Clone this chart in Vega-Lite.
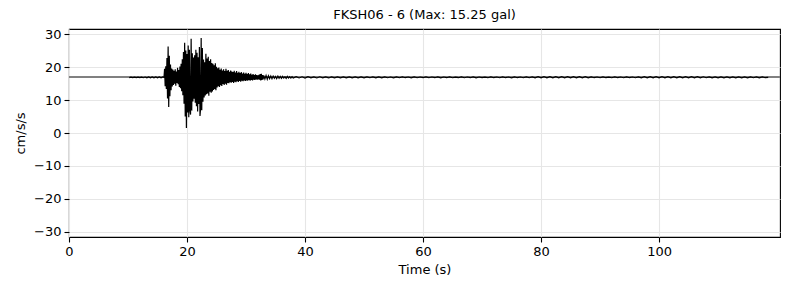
{
  "$schema": "https://vega.github.io/schema/vega-lite/v6.json",
  "width": 711,
  "height": 208,
  "autosize": "none",
  "padding": {"left": 69, "top": 29, "right": 10, "bottom": 53},
  "background": "white",
  "title": {"text": "FKSH06 - 6 (Max: 15.25 gal)", "fontSize": 13, "font": "DejaVu Sans", "fontWeight": "normal", "color": "black", "offset": 6, "anchor": "middle"},
  "config": {
    "view": {"stroke": "black", "strokeWidth": 1.1},
    "axis": {
      "domain": false, "grid": true, "tickColor": "black", "tickSize": 5, "tickWidth": 1.1,
      "labelFont": "DejaVu Sans", "labelFontSize": 13, "labelColor": "black", "labelPadding": 3,
      "labelOverlap": false, "labelFlush": false, "labelBound": false,
      "titleFont": "DejaVu Sans", "titleFontSize": 13, "titleFontWeight": "normal", "titleColor": "black",
      "gridColor": "#e6e6e6", "gridWidth": 1.1
    }
  },
  "data": {"values": [
    {"t":10.2,"a":16.85},{"t":10.5,"a":16.95},{"t":10.8,"a":16.82},{"t":11.1,"a":16.97},{"t":11.4,"a":16.84},{"t":11.7,"a":16.96},{"t":12.0,"a":16.83},{"t":12.3,"a":16.98},{"t":12.6,"a":16.8},{"t":12.9,"a":17.0},{"t":13.2,"a":16.78},{"t":13.5,"a":17.02},{"t":13.8,"a":16.77},{"t":14.1,"a":17.03},{"t":14.4,"a":16.79},{"t":14.7,"a":17.05},{"t":15.0,"a":16.76},{"t":15.3,"a":17.04},{"t":15.6,"a":16.78},{"t":15.9,"a":17.02},
    {"t":16.1,"a":16.9},{"t":16.2,"a":19.5},{"t":16.3,"a":14.2},{"t":16.4,"a":20.3},{"t":16.5,"a":13.4},{"t":16.6,"a":22.8},{"t":16.7,"a":10.5},{"t":16.8,"a":26.3},{"t":16.9,"a":7.9},{"t":17.0,"a":23.5},
    {"t":17.1,"a":11.2},{"t":17.2,"a":20.8},{"t":17.3,"a":13.0},{"t":17.4,"a":19.6},{"t":17.5,"a":14.1},{"t":17.6,"a":19.3},{"t":17.7,"a":14.6},{"t":17.8,"a":18.9},{"t":17.9,"a":15.0},{"t":18.0,"a":19.4},
    {"t":18.1,"a":14.4},{"t":18.2,"a":18.7},{"t":18.3,"a":15.2},{"t":18.4,"a":19.8},{"t":18.5,"a":14.8},{"t":18.6,"a":19.1},{"t":18.7,"a":14.0},{"t":18.8,"a":20.2},{"t":18.9,"a":13.6},{"t":19.0,"a":21.0},
    {"t":19.1,"a":12.7},{"t":19.2,"a":22.4},{"t":19.3,"a":11.5},{"t":19.4,"a":24.6},{"t":19.5,"a":8.9},{"t":19.6,"a":27.4},{"t":19.7,"a":5.0},{"t":19.8,"a":25.1},{"t":19.9,"a":1.5},{"t":20.0,"a":24.0},
    {"t":20.1,"a":6.2},{"t":20.2,"a":26.6},{"t":20.3,"a":4.8},{"t":20.4,"a":25.3},{"t":20.5,"a":7.0},{"t":20.6,"a":5.6},{"t":20.7,"a":28.6},{"t":20.8,"a":6.8},{"t":20.9,"a":24.2},{"t":21.0,"a":9.6},
    {"t":21.1,"a":22.9},{"t":21.2,"a":10.4},{"t":21.3,"a":23.6},{"t":21.4,"a":9.2},{"t":21.5,"a":25.3},{"t":21.6,"a":8.1},{"t":21.7,"a":24.4},{"t":21.8,"a":6.5},{"t":21.9,"a":23.0},{"t":22.0,"a":8.8},
    {"t":22.1,"a":26.1},{"t":22.2,"a":5.2},{"t":22.3,"a":7.4},{"t":22.4,"a":28.9},{"t":22.5,"a":6.9},{"t":22.6,"a":25.8},{"t":22.7,"a":9.5},{"t":22.8,"a":22.3},{"t":22.9,"a":10.8},{"t":23.0,"a":21.5},
    {"t":23.1,"a":11.4},{"t":23.2,"a":24.1},{"t":23.3,"a":11.8},{"t":23.4,"a":22.6},{"t":23.5,"a":12.0},{"t":23.6,"a":23.2},{"t":23.7,"a":11.3},{"t":23.8,"a":21.9},{"t":23.9,"a":12.5},{"t":24.0,"a":22.4},
    {"t":24.1,"a":12.2},{"t":24.2,"a":21.3},{"t":24.3,"a":12.6},{"t":24.4,"a":21.0},{"t":24.5,"a":13.1},{"t":24.6,"a":20.6},{"t":24.7,"a":13.4},{"t":24.8,"a":21.2},{"t":24.9,"a":13.0},{"t":25.0,"a":20.1},
    {"t":25.1,"a":13.8},{"t":25.2,"a":19.7},{"t":25.3,"a":14.2},{"t":25.4,"a":19.9},{"t":25.5,"a":14.0},{"t":25.6,"a":19.2},{"t":25.7,"a":14.5},{"t":25.8,"a":19.6},{"t":25.9,"a":14.3},{"t":26.0,"a":19.0},
    {"t":26.1,"a":14.9},{"t":26.2,"a":19.4},{"t":26.3,"a":14.6},{"t":26.4,"a":18.8},{"t":26.5,"a":15.0},{"t":26.6,"a":19.5},{"t":26.7,"a":14.7},{"t":26.8,"a":18.9},{"t":26.9,"a":15.2},{"t":27.0,"a":19.1},
    {"t":27.1,"a":15.1},{"t":27.2,"a":18.6},{"t":27.3,"a":15.4},{"t":27.4,"a":19.0},{"t":27.5,"a":15.3},{"t":27.6,"a":18.7},{"t":27.7,"a":15.5},{"t":27.8,"a":18.5},{"t":27.9,"a":15.2},{"t":28.0,"a":18.9},
    {"t":28.1,"a":15.6},{"t":28.2,"a":18.4},{"t":28.3,"a":15.4},{"t":28.4,"a":18.8},{"t":28.5,"a":15.7},{"t":28.6,"a":18.3},{"t":28.7,"a":15.5},{"t":28.8,"a":18.6},{"t":28.9,"a":15.8},{"t":29.0,"a":18.2},
    {"t":29.1,"a":15.6},{"t":29.2,"a":18.5},{"t":29.3,"a":15.9},{"t":29.4,"a":18.1},{"t":29.5,"a":15.7},{"t":29.6,"a":18.4},{"t":29.7,"a":16.0},{"t":29.8,"a":18.0},{"t":29.9,"a":15.8},{"t":30.0,"a":18.3},
    {"t":30.1,"a":16.0},{"t":30.2,"a":17.9},{"t":30.3,"a":15.9},{"t":30.4,"a":18.2},{"t":30.5,"a":16.1},{"t":30.6,"a":17.8},{"t":30.7,"a":15.9},{"t":30.8,"a":18.1},{"t":30.9,"a":16.1},{"t":31.0,"a":17.7},
    {"t":31.1,"a":16.0},{"t":31.2,"a":17.9},{"t":31.3,"a":16.2},{"t":31.4,"a":17.6},{"t":31.5,"a":16.1},{"t":31.6,"a":17.8},{"t":31.7,"a":16.3},{"t":31.8,"a":17.6},{"t":31.9,"a":16.2},{"t":32.0,"a":17.5},
    {"t":32.1,"a":16.3},{"t":32.2,"a":17.7},{"t":32.3,"a":16.2},{"t":32.4,"a":17.9},{"t":32.5,"a":16.0},{"t":32.6,"a":18.0},{"t":32.7,"a":16.1},{"t":32.8,"a":17.6},{"t":32.9,"a":16.3},{"t":33.0,"a":17.5},
    {"t":33.2,"a":16.4},{"t":33.4,"a":17.5},{"t":33.6,"a":16.3},{"t":33.8,"a":17.4},{"t":34.0,"a":16.5},{"t":34.2,"a":17.3},{"t":34.4,"a":16.5},{"t":34.6,"a":17.3},{"t":34.8,"a":16.6},{"t":35.0,"a":17.2},
    {"t":35.2,"a":16.5},{"t":35.4,"a":17.3},{"t":35.6,"a":16.6},{"t":35.8,"a":17.2},{"t":36.0,"a":16.6},{"t":36.2,"a":17.2},{"t":36.4,"a":16.7},{"t":36.6,"a":17.1},{"t":36.8,"a":16.6},{"t":37.0,"a":17.2},
    {"t":37.2,"a":16.7},{"t":37.4,"a":17.1},{"t":37.6,"a":16.7},{"t":37.8,"a":17.1},{"t":38.0,"a":16.7},
    {"t":38.5,"a":17.1},{"t":39.0,"a":16.72},{"t":39.5,"a":17.08},{"t":40.0,"a":16.7},{"t":40.5,"a":17.1},{"t":41.0,"a":16.74},{"t":41.5,"a":17.06},{"t":42.0,"a":16.72},{"t":42.5,"a":17.08},{"t":43.0,"a":16.75},
    {"t":43.5,"a":17.05},{"t":44.0,"a":16.73},{"t":44.5,"a":17.07},{"t":45.0,"a":16.76},{"t":45.5,"a":17.04},{"t":46.0,"a":16.77},{"t":46.5,"a":17.03},{"t":47.0,"a":16.76},{"t":47.5,"a":17.05},{"t":48.0,"a":16.78},
    {"t":48.5,"a":17.02},{"t":49.0,"a":16.77},{"t":49.5,"a":17.04},{"t":50.0,"a":16.78},{"t":50.5,"a":17.03},{"t":51.0,"a":16.79},{"t":51.5,"a":17.02},{"t":52.0,"a":16.77},{"t":52.5,"a":17.03},{"t":53.0,"a":16.78},
    {"t":53.5,"a":17.02},{"t":54.0,"a":16.79},{"t":54.5,"a":17.01},{"t":55.0,"a":16.78},{"t":55.5,"a":17.03},{"t":56.0,"a":16.79},{"t":56.5,"a":17.02},{"t":57.0,"a":16.8},{"t":57.5,"a":17.01},{"t":58.0,"a":16.78},
    {"t":58.5,"a":17.02},{"t":59.0,"a":16.79},{"t":59.5,"a":17.01},{"t":60.0,"a":16.8},{"t":60.5,"a":17.02},{"t":61.0,"a":16.79},{"t":61.5,"a":17.01},{"t":62.0,"a":16.8},{"t":62.5,"a":17.02},{"t":63.0,"a":16.78},
    {"t":63.5,"a":17.01},{"t":64.0,"a":16.8},{"t":64.5,"a":17.02},{"t":65.0,"a":16.79},{"t":65.5,"a":17.0},{"t":66.0,"a":16.8},{"t":66.5,"a":17.02},{"t":67.0,"a":16.79},{"t":67.5,"a":17.01},{"t":68.0,"a":16.8},
    {"t":68.5,"a":17.02},{"t":69.0,"a":16.78},{"t":69.5,"a":17.01},{"t":70.0,"a":16.8},{"t":70.5,"a":17.0},{"t":71.0,"a":16.79},{"t":71.5,"a":17.02},{"t":72.0,"a":16.8},{"t":72.5,"a":17.01},{"t":73.0,"a":16.79},
    {"t":73.5,"a":17.02},{"t":74.0,"a":16.8},{"t":74.5,"a":17.01},{"t":75.0,"a":16.78},{"t":75.5,"a":17.02},{"t":76.0,"a":16.8},{"t":76.5,"a":17.01},{"t":77.0,"a":16.79},{"t":77.5,"a":17.02},{"t":78.0,"a":16.8},
    {"t":78.5,"a":17.02},{"t":79.0,"a":16.76},{"t":79.5,"a":17.1},{"t":80.0,"a":16.76},{"t":80.5,"a":17.12},{"t":81.0,"a":16.75},{"t":81.5,"a":17.11},{"t":82.0,"a":16.77},{"t":82.5,"a":17.12},{"t":83.0,"a":16.76},
    {"t":83.5,"a":17.1},{"t":84.0,"a":16.77},{"t":84.5,"a":17.11},{"t":85.0,"a":16.76},{"t":85.5,"a":17.1},{"t":86.0,"a":16.78},{"t":86.5,"a":17.11},{"t":87.0,"a":16.77},{"t":87.5,"a":17.09},{"t":88.0,"a":16.78},
    {"t":88.5,"a":17.02},{"t":89.0,"a":16.8},{"t":89.5,"a":17.01},{"t":90.0,"a":16.79},{"t":90.5,"a":17.02},{"t":91.0,"a":16.8},{"t":91.5,"a":17.0},{"t":92.0,"a":16.79},{"t":92.5,"a":17.02},{"t":93.0,"a":16.8},
    {"t":93.5,"a":17.01},{"t":94.0,"a":16.79},{"t":94.5,"a":17.02},{"t":95.0,"a":16.8},{"t":95.5,"a":17.01},{"t":96.0,"a":16.79},{"t":96.5,"a":17.03},{"t":97.0,"a":16.77},{"t":97.5,"a":17.1},{"t":98.0,"a":16.76},
    {"t":98.5,"a":17.12},{"t":99.0,"a":16.75},{"t":99.5,"a":17.11},{"t":100.0,"a":16.76},{"t":100.5,"a":17.12},{"t":101.0,"a":16.76},{"t":101.5,"a":17.11},{"t":102.0,"a":16.75},{"t":102.5,"a":17.1},{"t":103.0,"a":16.77},
    {"t":103.5,"a":17.11},{"t":104.0,"a":16.76},{"t":104.5,"a":17.1},{"t":105.0,"a":16.77},{"t":105.5,"a":17.11},{"t":106.0,"a":16.77},{"t":106.5,"a":17.09},{"t":107.0,"a":16.78},{"t":107.5,"a":17.08},{"t":108.0,"a":16.79},
    {"t":108.5,"a":17.05},{"t":109.0,"a":16.77},{"t":109.5,"a":17.04},{"t":110.0,"a":16.76},{"t":110.5,"a":17.05},{"t":111.0,"a":16.78},{"t":111.5,"a":17.03},{"t":112.0,"a":16.77},{"t":112.5,"a":17.04},{"t":113.0,"a":16.78},
    {"t":113.5,"a":17.03},{"t":114.0,"a":16.77},{"t":114.5,"a":17.04},{"t":115.0,"a":16.78},{"t":115.5,"a":17.02},{"t":116.0,"a":16.79},{"t":116.5,"a":17.03},{"t":117.0,"a":16.78},{"t":117.5,"a":17.02},{"t":118.0,"a":16.8},{"t":118.5,"a":16.92}
  ]},
  "layer": [
    {
      "mark": {"type": "rule", "color": "#808080", "strokeWidth": 1},
      "encoding": {
        "y": {"datum": 16.95, "type": "quantitative", "title": "cm/s/s",
              "scale": {"domain": [-31.6, 31.6], "nice": false},
              "axis": {"values": [-30, -20, -10, 0, 10, 20, 30], "titlePadding": 6, "grid": true}}
      }
    },
    {
      "mark": {"type": "line", "color": "black", "strokeWidth": 1.2, "clip": true},
      "encoding": {
        "x": {"field": "t", "type": "quantitative", "title": "Time (s)",
              "scale": {"domain": [0, 120.5], "nice": false, "zero": false},
              "axis": {"values": [0, 20, 40, 60, 80, 100], "titlePadding": 5, "grid": true}},
        "y": {"field": "a", "type": "quantitative", "title": "cm/s/s",
              "scale": {"domain": [-31.6, 31.6], "nice": false},
              "axis": {"values": [-30, -20, -10, 0, 10, 20, 30], "titlePadding": 6, "grid": true}}
      }
    }
  ]
}
